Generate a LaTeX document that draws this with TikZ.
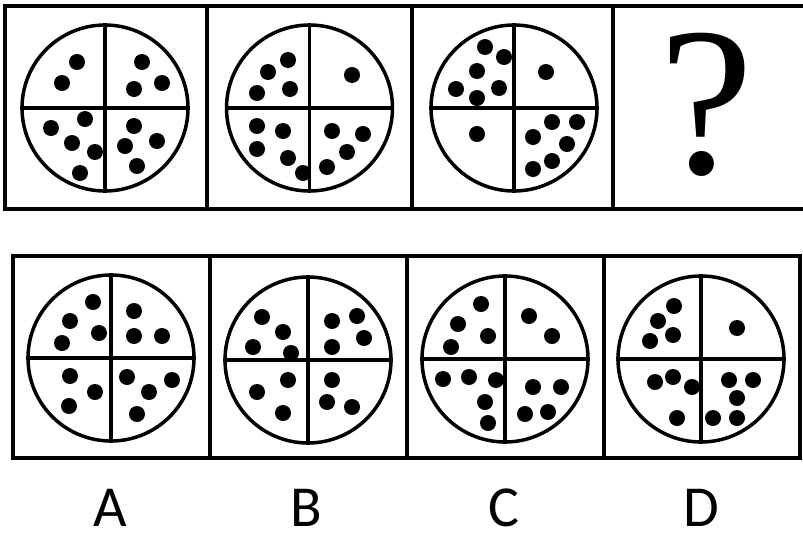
\documentclass[tikz,border=0pt]{standalone}
\usepackage{fontspec}
\setmainfont{Carlito}
\newfontfamily\qfont{Liberation Serif}
\begin{document}
\begin{tikzpicture}[x=0.5pt,y=-0.5pt,
  frame/.style={line width=2pt},
  pie/.style={draw,circle,line width=1.75pt,minimum size=83pt,inner sep=0pt},
  cross/.style={line width=1.6pt},
  lab/.style={font=\fontsize{29}{30}\selectfont,inner sep=0pt}]
\useasboundingbox (0,0) rectangle (803,536);
% top row frame (open on the right)
\draw[frame] (806,5.5) -- (5,5.5) -- (5,209) -- (806,209);
\foreach \x in {207,412,613} \draw[frame] (\x,5.5) -- (\x,209);
% bottom row frame
\draw[frame] (13,255.5) rectangle (799.5,458);
\foreach \x in {210,407,604} \draw[frame] (\x,255.5) -- (\x,458);
% circles
\node[pie] (t1) at (105,108) {};
\node[pie] (t2) at (309.5,108) {};
\node[pie] (t3) at (514,108) {};
\node[pie] (oa) at (111,358) {};
\node[pie] (ob) at (308,360) {};
\node[pie] (oc) at (505,359) {};
\node[pie] (od) at (701,359) {};
\foreach \p in {t1,t2,t3,oa,ob,oc,od}
  \draw[cross] (\p.north) -- (\p.south) (\p.west) -- (\p.east);
% dots
\foreach \x/\y in {77/62,62/83, 142/62,162/83,134/89,
  85/119,51/128,72/143,95/152,80/173, 134/126,157/141,125/146,137/166}
  \fill (\x,\y) circle (8);
\foreach \x/\y in {288/60,268/72,257/93,290/89, 352/75,
  257/126,283/131,257/149,288/158,303/173, 332/131,363/134,347/152,327/167}
  \fill (\x,\y) circle (8);
\foreach \x/\y in {485/47,504/57,477/71,456/89,499/88,477/98, 546/72, 477/134,
  552/122,577/122,533/137,567/144,552/161,533/169}
  \fill (\x,\y) circle (8);
\foreach \x/\y in {93/302,70/321,99/333,62/343, 134/311,134/336,162/336,
  70/376,95/392,69/406, 127/377,172/380,149/392,137/414}
  \fill (\x,\y) circle (8);
\foreach \x/\y in {262/317,283/332,253/347,291/353, 332/321,357/316,364/338,332/347,
  288/380,257/392,283/413, 332/380,327/402,352/407}
  \fill (\x,\y) circle (8);
\foreach \x/\y in {481/304,458/324,488/336,451/347, 529/316,552/336,
  443/379,469/377,496/380,485/402,488/423, 533/387,561/387,525/414,548/412}
  \fill (\x,\y) circle (8);
\foreach \x/\y in {674/306,658/321,673/335,650/341, 737/328,
  655/382,673/377,692/387,677/418, 729/380,753/380,737/398,713/418,737/418}
  \fill (\x,\y) circle (8);
% question mark
\node[font=\qfont\fontsize{106}{106}\selectfont,inner sep=0pt] (q) at (707,105) {?};
% option labels
\node[lab] (la) at (110,508) {A};
\node[lab] (lb) at (306,508) {B};
\node[lab] (lc) at (504,508) {C};
\node[lab] (ld) at (701,508) {D};
\end{tikzpicture}
\end{document}
